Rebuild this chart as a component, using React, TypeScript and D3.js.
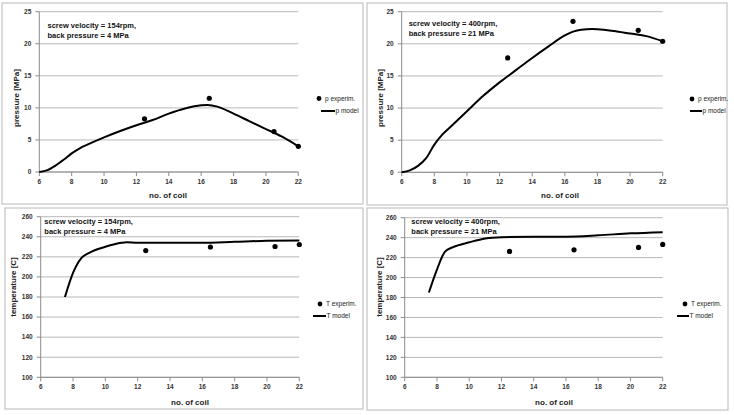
import React from "react";
import * as d3 from "d3";

const xTicks = [6, 8, 10, 12, 14, 16, 18, 20, 22];
const pTicks = [0, 5, 10, 15, 20, 25];
const tTicks = [100, 120, 140, 160, 180, 200, 220, 240, 260];

const expX = [12.5, 16.5, 20.5, 22];

// Panel 1: 154 rpm, pressure
const p1Exp = [8.3, 11.5, 6.3, 4.0];
const p1ModelX = [6, 6.5, 7, 7.5, 8, 8.5, 9, 10, 11, 12, 13, 14, 15, 16, 16.4, 17, 18, 19, 20, 21, 22];
const p1ModelY = [0, 0.3, 1.0, 1.9, 2.9, 3.7, 4.3, 5.4, 6.4, 7.3, 8.1, 9.1, 9.9, 10.4, 10.45, 10.2, 9.1, 7.9, 6.7, 5.5, 4.0];

// Panel 2: 400 rpm, pressure
const p2Exp = [17.8, 23.5, 22.1, 20.4];
const p2ModelX = [6, 6.5, 7, 7.5, 8, 8.5, 9, 10, 11, 12, 13, 14, 15, 16, 16.5, 17, 17.7, 18.5, 19, 20, 21, 22];
const p2ModelY = [0, 0.3, 1.0, 2.2, 4.3, 5.9, 7.1, 9.5, 11.9, 14.0, 15.9, 17.8, 19.6, 21.3, 21.9, 22.2, 22.3, 22.15, 22.0, 21.6, 21.2, 20.4];

// Panel 3: 154 rpm, temperature
const t1Exp = [226.3, 229.8, 230.3, 232.3];
const t1ModelX = [7.5, 8, 8.5, 9, 10, 11, 11.3, 12, 14, 16, 18, 20, 22];
const t1ModelY = [180, 204, 218.5, 224, 230, 234, 234.5, 234, 234, 234, 235, 236, 236.3];

// Panel 4: 400 rpm, temperature
const t2Exp = [226.2, 227.8, 230.2, 233.2];
const t2ModelX = [7.5, 8, 8.5, 9, 10, 11, 12, 14, 16, 18, 20, 22];
const t2ModelY = [185, 208, 226, 230.5, 235.3, 239.2, 240.5, 241, 241, 242.3, 244.3, 245.5];

const annot1 = ["screw velocity = 154rpm,", "back pressure = 4 MPa"];
const annot2 = ["screw velocity = 400rpm,", "back pressure = 21 MPa"];

const FONT = "'Liberation Sans', Arial, sans-serif";

type PanelProps = {
  box: [number, number, number, number];
  plot: { x0: number; x1: number; y0: number; y1: number };
  yDomain: [number, number];
  yTicks: number[];
  yLabel: string;
  yLabelPos: [number, number];
  xLabelPos: [number, number];
  annot: string[];
  annotPos: [number, number];
  expY: number[];
  modelX: number[];
  modelY: number[];
  legendExp: string;
  legendModel: string;
  legendPos: { dotX: number; dotY: number; lineX0: number; lineX1: number; lineY: number };
};

function Panel(p: PanelProps) {
  const x = d3.scaleLinear().domain([6, 22]).range([p.plot.x0, p.plot.x1]);
  const y = d3.scaleLinear().domain(p.yDomain).range([p.plot.y1, p.plot.y0]);
  const line = d3
    .line<number>()
    .x((_, i) => x(p.modelX[i]))
    .y((d) => y(d))
    .curve(d3.curveMonotoneX);
  const [bx, by, bw, bh] = p.box;
  return (
    <g>
      <rect x={bx} y={by} width={bw} height={bh} fill="#fff" stroke="#c4c4c4" strokeWidth={1.2} />
      {p.yTicks.map((t) => (
        <line key={"g" + t} x1={p.plot.x0} x2={p.plot.x1} y1={y(t)} y2={y(t)} stroke="#b8b8b8" strokeWidth={1} />
      ))}
      <line x1={p.plot.x0} x2={p.plot.x0} y1={y(p.yDomain[0])} y2={y(p.yDomain[1])} stroke="#8c8c8c" strokeWidth={1} />
      <line x1={p.plot.x0} x2={p.plot.x1} y1={y(p.yDomain[0])} y2={y(p.yDomain[0])} stroke="#8c8c8c" strokeWidth={1} />
      {p.yTicks.map((t) => (
        <g key={"yt" + t}>
          <line x1={p.plot.x0 - 4} x2={p.plot.x0} y1={y(t)} y2={y(t)} stroke="#8c8c8c" />
          <text x={p.plot.x0 - 8} y={y(t)} dy="0.35em" textAnchor="end" fontSize={6.5} fontWeight="bold" fill="#333" fontFamily={FONT}>
            {t}
          </text>
        </g>
      ))}
      {xTicks.map((t) => (
        <g key={"xt" + t}>
          <line x1={x(t)} x2={x(t)} y1={y(p.yDomain[0])} y2={y(p.yDomain[0]) + 4} stroke="#8c8c8c" />
          <text x={x(t)} y={y(p.yDomain[0]) + 12} textAnchor="middle" fontSize={6.5} fontWeight="bold" fill="#333" fontFamily={FONT}>
            {t}
          </text>
        </g>
      ))}
      <text
        transform={`translate(${p.yLabelPos[0]},${p.yLabelPos[1]}) rotate(-90)`}
        textAnchor="middle"
        dy="0.35em"
        fontSize={8}
        fontWeight="bold"
        fill="#222"
        fontFamily={FONT}
      >
        {p.yLabel}
      </text>
      <text x={p.xLabelPos[0]} y={p.xLabelPos[1]} dy="0.35em" textAnchor="middle" fontSize={8} fontWeight="bold" fill="#222" fontFamily={FONT}>
        no. of coil
      </text>
      {p.annot.map((s, i) => (
        <text key={s} x={p.annotPos[0]} y={p.annotPos[1] + i * 10} dy="0.35em" fontSize={7.5} fontWeight="bold" fill="#111" fontFamily={FONT}>
          {s}
        </text>
      ))}
      <path d={line(p.modelY) || ""} fill="none" stroke="#000" strokeWidth={2} />
      {p.expY.map((v, i) => (
        <circle key={"e" + i} cx={x(expX[i])} cy={y(v)} r={2.6} fill="#000" />
      ))}
      <circle cx={p.legendPos.dotX} cy={p.legendPos.dotY} r={2.4} fill="#000" />
      <text x={p.legendPos.dotX + 6} y={p.legendPos.dotY} dy="0.35em" fontSize={6.5} fill="#222" fontFamily={FONT}>
        {p.legendExp}
      </text>
      <line x1={p.legendPos.lineX0} x2={p.legendPos.lineX1} y1={p.legendPos.lineY} y2={p.legendPos.lineY} stroke="#000" strokeWidth={2} />
      <text x={p.legendPos.lineX1 + 0.5} y={p.legendPos.lineY} dy="0.35em" fontSize={6.5} fill="#222" fontFamily={FONT}>
        {p.legendModel}
      </text>
    </g>
  );
}

export default function App() {
  return (
    <div style={{ position: "absolute", left: 0, top: 0 }}>
      <svg width={734} height={415} style={{ display: "block", background: "#fff" }}>
        <Panel
          box={[2, 3, 361, 201]}
          plot={{ x0: 39.3, x1: 298.3, y0: 11.7, y1: 172 }}
          yDomain={[0, 25]}
          yTicks={pTicks}
          yLabel="pressure  [MPa]"
          yLabelPos={[16, 98]}
          xLabelPos={[168, 195]}
          annot={annot1}
          annotPos={[47.5, 25.3]}
          expY={p1Exp}
          modelX={p1ModelX}
          modelY={p1ModelY}
          legendExp="p experim."
          legendModel="p model"
          legendPos={{ dotX: 319, dotY: 98.5, lineX0: 321, lineX1: 335, lineY: 111 }}
        />
        <Panel
          box={[367, 3, 360, 202]}
          plot={{ x0: 401.7, x1: 662.7, y0: 11.7, y1: 172.3 }}
          yDomain={[0, 25]}
          yTicks={pTicks}
          yLabel="pressure  [MPa]"
          yLabelPos={[380, 98]}
          xLabelPos={[560, 195]}
          annot={annot2}
          annotPos={[408.7, 23.3]}
          expY={p2Exp}
          modelX={p2ModelX}
          modelY={p2ModelY}
          legendExp="p experim."
          legendModel="p model"
          legendPos={{ dotX: 692, dotY: 99, lineX0: 690, lineX1: 702, lineY: 111 }}
        />
        <Panel
          box={[5, 208, 358, 201]}
          plot={{ x0: 40.7, x1: 299.3, y0: 216.7, y1: 377.3 }}
          yDomain={[100, 260]}
          yTicks={tTicks}
          yLabel="temperature  [C]"
          yLabelPos={[13, 287]}
          xLabelPos={[190, 402]}
          annot={annot1}
          annotPos={[44.3, 221]}
          expY={t1Exp}
          modelX={t1ModelX}
          modelY={t1ModelY}
          legendExp="T experim."
          legendModel="T model"
          legendPos={{ dotX: 320, dotY: 304, lineX0: 313, lineX1: 326, lineY: 316 }}
        />
        <Panel
          box={[367, 208, 361, 202]}
          plot={{ x0: 404.7, x1: 662.7, y0: 217.7, y1: 377.3 }}
          yDomain={[100, 260]}
          yTicks={tTicks}
          yLabel="temperature  [C]"
          yLabelPos={[379, 287]}
          xLabelPos={[554, 402]}
          annot={annot2}
          annotPos={[411.3, 221.7]}
          expY={t2Exp}
          modelX={t2ModelX}
          modelY={t2ModelY}
          legendExp="T experim."
          legendModel="T model"
          legendPos={{ dotX: 685, dotY: 304, lineX0: 677, lineX1: 689, lineY: 316 }}
        />
      </svg>
    </div>
  );
}
